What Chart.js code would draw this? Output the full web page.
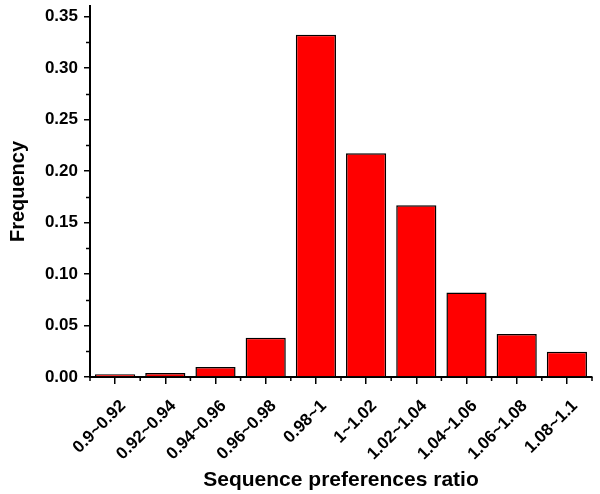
<html>
<head>
<title>Sequence preferences ratio</title>
<script src="https://cdn.jsdelivr.net/npm/chart.js@4/dist/chart.umd.min.js"></script>
<style>
  body { margin: 0; background: #fff; }
  #wrap { width: 600px; height: 494px; }
</style>
</head>
<body>
<div id="wrap"><canvas id="myChart" width="600" height="494"></canvas></div>
<script>
var categories = ['0.9~0.92', '0.92~0.94', '0.94~0.96', '0.96~0.98', '0.98~1',
                  '1~1.02', '1.02~1.04', '1.04~1.06', '1.06~1.08', '1.08~1.1'];
var frequency = [0.0026, 0.0039, 0.0097, 0.038, 0.332, 0.217, 0.1667, 0.082, 0.0417, 0.0245];
var yMajorTicks = [0, 0.05, 0.10, 0.15, 0.20, 0.25, 0.30, 0.35];
var yMinorTicks = [0.025, 0.075, 0.125, 0.175, 0.225, 0.275, 0.325];

var font = 'Liberation Sans, Arial, sans-serif';

// short minor ticks: y between major ticks, x on category boundaries
var minorTicks = {
    id: 'minorTicks',
    afterDraw: function(chart) {
        var ctx = chart.ctx;
        var x = chart.scales.x, y = chart.scales.y;
        ctx.save();
        ctx.strokeStyle = '#000';
        ctx.lineWidth = 1.5;
        ctx.beginPath();
        yMinorTicks.forEach(function(v) {
            var py = Math.round(y.getPixelForValue(v)) + 0.5;
            ctx.moveTo(x.left - 4, py);
            ctx.lineTo(x.left, py);
        });
        for (var i = 0; i <= categories.length; i++) {
            var px = x.getPixelForValue(i - 0.5);
            ctx.moveTo(px, y.bottom);
            ctx.lineTo(px, y.bottom + 4);
        }
        ctx.stroke();
        ctx.restore();
    }
};

new Chart(document.getElementById('myChart'), {
    type: 'bar',
    data: {
        labels: categories,
        datasets: [{
            data: frequency,
            backgroundColor: '#ff0000',
            borderColor: '#000',
            borderWidth: 1.5,
            barPercentage: 0.8,
            categoryPercentage: 1.0
        }]
    },
    options: {
        responsive: false,
        animation: false,
        layout: { padding: { top: 6, right: 8, left: 0, bottom: 0 } },
        plugins: { legend: { display: false }, tooltip: { enabled: false } },
        scales: {
            x: {
                grid: { drawOnChartArea: false, offset: false, color: '#000', lineWidth: 1.5, tickLength: 7 },
                border: { color: '#000', width: 2 },
                ticks: {
                    color: '#000', font: { family: font, size: 17, weight: 'bold' },
                    minRotation: 45, maxRotation: 45, padding: 12, labelOffset: 8
                },
                title: {
                    display: true, text: 'Sequence preferences ratio', color: '#000',
                    font: { family: font, size: 21, weight: 'bold' }, padding: { top: 0, bottom: 1 }
                },
                afterFit: function(s) { s.height = 117; }
            },
            y: {
                min: 0, max: 0.36,
                grid: { drawOnChartArea: false, color: '#000', lineWidth: 1.5, tickLength: 6 },
                border: { color: '#000', width: 2 },
                ticks: {
                    color: '#000', padding: 6,
                    font: { family: font, size: 17, weight: 'bold' },
                    callback: function(v) { return v.toFixed(2); }
                },
                afterBuildTicks: function(s) {
                    s.ticks = yMajorTicks.map(function(v) { return { value: v }; });
                },
                title: {
                    display: true, text: 'Frequency', color: '#000',
                    font: { family: font, size: 20, weight: 'bold' }, padding: { top: 6, bottom: 0 }
                },
                afterFit: function(s) {
                    s.width = 90;
                    s.paddingTop = 0;
                    s.paddingBottom = 0;
                }
            }
        }
    },
    plugins: [minorTicks]
});
</script>
</body>
</html>
